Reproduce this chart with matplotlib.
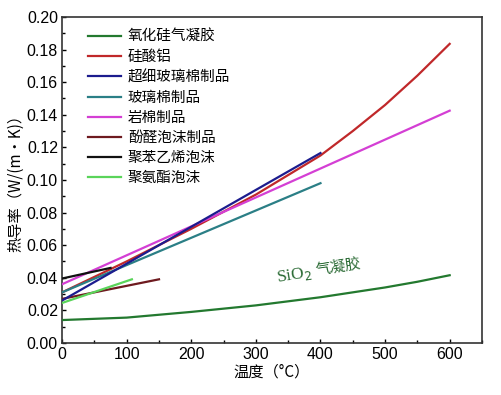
import matplotlib
matplotlib.use("Agg")
import matplotlib.pyplot as plt
from matplotlib.ticker import MultipleLocator

plt.rcParams['font.family'] = ['Noto Sans CJK SC', 'DejaVu Sans']

# Data (temperature °C, thermal conductivity W/(m·K))
aerogel_x = [0, 100, 200, 300, 400, 450, 500, 550, 600]
aerogel_y = [0.014, 0.0155, 0.019, 0.023, 0.028, 0.031, 0.034, 0.0375, 0.0415]

alsil_x = [0, 100, 200, 300, 400, 450, 500, 550, 600]
alsil_y = [0.031, 0.050, 0.070, 0.091, 0.115, 0.130, 0.146, 0.164, 0.1835]

ufglass_x = [0, 400]
ufglass_y = [0.026, 0.1165]

glass_x = [0, 400]
glass_y = [0.031, 0.098]

rock_x = [0, 600]
rock_y = [0.036, 0.1425]

phenolic_x = [0, 150]
phenolic_y = [0.027, 0.039]

ps_x = [0, 75]
ps_y = [0.0395, 0.046]

pu_x = [0, 108]
pu_y = [0.0245, 0.039]

labels = ['氧化硅气凝胶', '硅酸铝', '超细玻璃棉制品', '玻璃棉制品', '岩棉制品',
          '酚醛泡沫制品', '聚苯乙烯泡沫', '聚氨酯泡沫']
colors = ['#23792f', '#c0282a', '#1c1c8e', '#2b7f86', '#d43fd4',
          '#6e1a1f', '#111111', '#5ad45a']

xticks = [0, 100, 200, 300, 400, 500, 600]
yticks = [0.00, 0.02, 0.04, 0.06, 0.08, 0.10, 0.12, 0.14, 0.16, 0.18, 0.20]

fig = plt.figure(figsize=(5.01, 3.95), dpi=100)
ax = fig.add_axes([0.124, 0.132, 0.838, 0.825])

series = [(aerogel_x, aerogel_y), (alsil_x, alsil_y), (ufglass_x, ufglass_y),
          (glass_x, glass_y), (rock_x, rock_y), (phenolic_x, phenolic_y),
          (ps_x, ps_y), (pu_x, pu_y)]
zorders = [3, 3, 4, 3, 3, 3, 5, 4]
for (xs, ys), lab, c, z in zip(series, labels, colors, zorders):
    ax.plot(xs, ys, color=c, lw=1.6, label=lab, zorder=z)

ax.set_xlim(0, 650)
ax.set_ylim(0, 0.20)
ax.set_xticks(xticks)
ax.set_yticks(yticks)
ax.set_xticklabels([str(t) for t in xticks])
ax.set_yticklabels([f'{t:.2f}' for t in yticks])
ax.xaxis.set_minor_locator(MultipleLocator(50))
ax.yaxis.set_minor_locator(MultipleLocator(0.01))
ax.tick_params(which='both', direction='in', top=False, right=False)
ax.tick_params(which='major', length=3, width=1, labelsize=11.5, pad=3)
ax.tick_params(which='minor', length=2, width=1)
for lab in ax.get_xticklabels() + ax.get_yticklabels():
    lab.set_family(['Liberation Sans', 'DejaVu Sans'])
for s in ax.spines.values():
    s.set_linewidth(1.2)
    s.set_color('#333333')

ax.set_xlabel('温度（°C）', fontsize=11, labelpad=1)
ax.set_ylabel('热导率（W/(m·K)）', fontsize=11, labelpad=2)

leg = ax.legend(loc='upper left', frameon=False, fontsize=10.5, handlelength=2.3,
                handletextpad=0.45, labelspacing=0.42, borderaxespad=0.5,
                bbox_to_anchor=(0.03, 1.0))

ax.text(330, 0.034, 'SiO$_2$', color='#2b6b35', fontsize=12.5, rotation=9,
        family='Liberation Serif', ha='left', va='bottom')
ax.text(390, 0.0395, '气凝胶', color='#2b6b35', fontsize=11, rotation=9,
        ha='left', va='bottom')

fig.savefig('out.png', dpi=100)
